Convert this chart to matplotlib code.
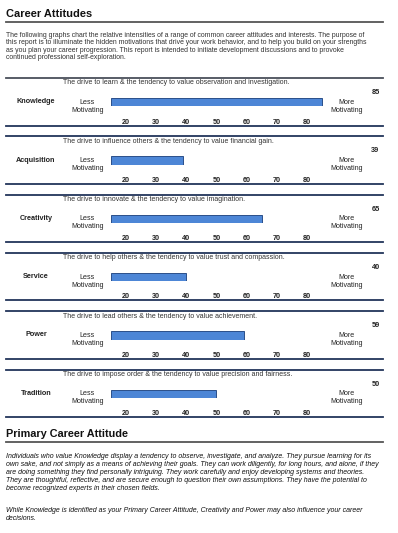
import matplotlib
matplotlib.use("Agg")
import matplotlib.pyplot as plt
from matplotlib.lines import Line2D

plt.rcParams['font.family'] = ['Liberation Sans', 'DejaVu Sans']

W, H = 398, 533

# data
attitudes = ["Knowledge", "Acquisition", "Creativity", "Service", "Power", "Tradition"]
scores = [85, 39, 65, 40, 59, 50]
descriptions = [
    "The drive to learn & the tendency to value observation and investigation.",
    "The drive to influence others & the tendency to value financial gain.",
    "The drive to innovate & the tendency to value imagination.",
    "The drive to help others & the tendency to value trust and compassion.",
    "The drive to lead others & the tendency to value achievement.",
    "The drive to impose order & the tendency to value precision and fairness.",
]
tick_values = [20, 30, 40, 50, 60, 70, 80]
axis_min, axis_max = 15, 90

intro = [
    "The following graphs chart the relative intensities of a range of common career attitudes and interests. The purpose of",
    "this report is to illuminate the hidden motivations that drive your work behavior, and to help you build on your strengths",
    "as you plan your career progression. This report is intended to initiate development discussions and to provoke",
    "continued professional self-exploration.",
]
summary_1 = [
    "Individuals who value Knowledge display a tendency to observe, investigate, and analyze. They pursue learning for its",
    "own sake, and not simply as a means of achieving their goals. They can work diligently, for long hours, and alone, if they",
    "are doing something they find personally intriguing. They work carefully and enjoy developing systems and theories.",
    "They are thoughtful, reflective, and are secure enough to question their own assumptions. They have the potential to",
    "become recognized experts in their chosen fields.",
]
summary_2 = [
    "While Knowledge is identified as your Primary Career Attitude, Creativity and Power may also influence your career",
    "decisions.",
]


def fx(x):
    return x / W


def fy(y):
    return 1 - y / H


def hline(fig, y, color, lw, x0=6, x1=383):
    fig.add_artist(Line2D([fx(x0), fx(x1)], [fy(y), fy(y)], color=color, lw=lw,
                          transform=fig.transFigure))


fig = plt.figure(figsize=(W / 100, H / 100), dpi=100)
fig.patch.set_facecolor('white')

# header
fig.text(fx(6), fy(14), "Career Attitudes", fontsize=7.9, fontweight='bold',
         color='#111111', va='center', ha='left')
hline(fig, 21.7, '#555555', 1.3)
for i, line in enumerate(intro):
    fig.text(fx(6), fy(35.5 + i * 7.4), line, fontsize=4.93, color='#333333',
             va='center', ha='left')

# panels
navy = '#22355a'
for i, (name, val, desc) in enumerate(zip(attitudes, scores, descriptions)):
    top = 78 + i * 58.3
    hline(fig, top, '#4a4f5a' if i == 0 else navy, 1.3)
    hline(fig, top + 47.5, navy, 1.3)

    fig.text(fx(63), fy(top + 5), desc, fontsize=5.05, color='#333333',
             va='center', ha='left')
    fig.text(fx(375.5), fy(top + 14.5), str(val), fontsize=5.3, fontweight='bold',
             color='#222222', va='center', ha='center')
    fig.text(fx(36), fy(top + 23.7), name, fontsize=5.2, fontweight='bold',
             color='#222222', va='center', ha='center')
    fig.text(fx(87.5), fy(top + 28.2), "Less\nMotivating", fontsize=5.1,
             color='#222222', va='center', ha='center', linespacing=1.2)
    fig.text(fx(346.5), fy(top + 28.2), "More\nMotivating", fontsize=5.1,
             color='#222222', va='center', ha='center', linespacing=1.2)

    bar_top = top + 20
    bar_h = 8.3
    ax = fig.add_axes([fx(111), fy(bar_top + bar_h), fx(337) - fx(111), bar_h / H])
    ax.barh(0, val - axis_min, left=axis_min, height=1.0, color='#4d86d6',
            edgecolor='#2b4f8a', linewidth=0.7)
    ax.set_xlim(axis_min, axis_max)
    ax.set_ylim(-0.5, 0.5)
    ax.set_xticks(tick_values)
    ax.set_xticklabels([str(t) for t in tick_values], fontsize=5.2, fontweight='bold',
                       color='#222222')
    ax.tick_params(axis='x', length=0, pad=8.8)
    ax.set_yticks([])
    for s in ax.spines.values():
        s.set_visible(False)
    ax.patch.set_alpha(0)

# primary attitude
fig.text(fx(6), fy(434), "Primary Career Attitude", fontsize=7.8, fontweight='bold',
         color='#111111', va='center', ha='left')
hline(fig, 441.5, '#555555', 1.3)
for i, line in enumerate(summary_1):
    fig.text(fx(6), fy(456 + i * 8.2), line, fontsize=5.0, color='#111111',
             style='italic', va='center', ha='left')
for i, line in enumerate(summary_2):
    fig.text(fx(6), fy(510 + i * 8.2), line, fontsize=5.0, color='#111111',
             style='italic', va='center', ha='left')

fig.savefig("out.png", dpi=100, facecolor='white')
